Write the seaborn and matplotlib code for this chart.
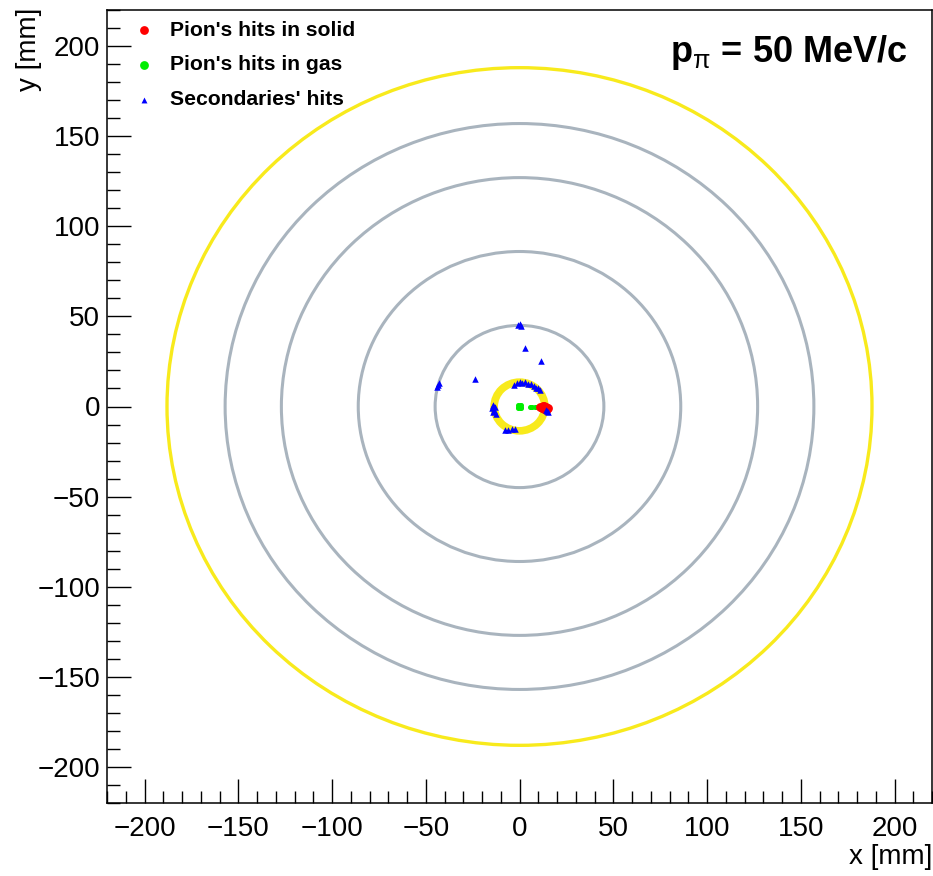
import matplotlib
matplotlib.use("Agg")
import matplotlib.pyplot as plt
from matplotlib.patches import Circle
from matplotlib.ticker import MultipleLocator
import seaborn as sns
import pandas as pd

# detector layers (radius in mm)
grey_radii = [45, 86, 127, 157]
yellow_outer_radius = 188
yellow_inner_radius = 13.5

# pion hits in solid
solid_x = [11.0, 12.0, 12.5, 13.0, 13.5, 14.0, 14.5, 15.0, 13.0, 14.0]
solid_y = [-0.5, -1.0, 0.5, -1.5, -0.5, 0.0, -1.5, -1.0, 0.5, -2.0]

# pion hits in gas (blob at the origin, then a dashed track towards the solid)
gas_x = [0.0, 1.0, -1.0, 0.0, 0.0, 0.7, -0.7, 0.7, -0.7,
         5.5, 6.0, 6.5, 8.5, 9.0, 9.5]
gas_y = [0.0, 0.0, 0.0, 1.0, -1.0, 0.7, 0.7, -0.7, -0.7,
         -0.2, -0.2, -0.2, -0.3, -0.3, -0.3]

# secondaries
sec_x = [-1.0, 0.0, 0.8, 3.0, 11.5, -23.5, -43.5, -43.0, -44.0,
         -3.0, -1.5, 0.0, 1.5, 3.0, 4.5, 6.0, 7.5, 9.0, 10.0, 11.0,
         -14.0, -14.5, -13.5, -14.0, -13.0, -12.5, -14.0,
         -8.0, -6.0, -4.0, -2.5,
         14.0, 15.0, 14.5]
sec_y = [45.0, 45.5, 44.8, 32.5, 25.0, 15.0, 12.0, 13.0, 11.0,
         12.0, 13.0, 13.5, 13.0, 13.5, 12.5, 12.5, 11.5, 10.5, 10.0, 9.0,
         1.0, -1.0, -2.0, -3.0, 0.0, -4.0, 0.5,
         -13.0, -13.0, -12.5, -12.5,
         -2.0, -3.0, -2.5]

sns.set_style("white")
plt.rcParams['font.family'] = ['Liberation Sans', 'DejaVu Sans']
plt.rcParams['text.color'] = 'black'
plt.rcParams['axes.labelcolor'] = 'black'
plt.rcParams['mathtext.fontset'] = 'custom'
plt.rcParams['mathtext.rm'] = 'Liberation Sans'
plt.rcParams['mathtext.bf'] = 'Liberation Sans:bold'

fig = plt.figure(figsize=(9.33, 8.76), dpi=100)
ax = fig.add_axes([107 / 933, 73 / 876, 825 / 933, 793 / 876])

for r in grey_radii:
    ax.add_patch(Circle((0, 0), r, fill=False, color='#a9b4be', lw=2.2))
ax.add_patch(Circle((0, 0), yellow_outer_radius, fill=False, color='#f8ea1c', lw=2.4))
ax.add_patch(Circle((0, 0), yellow_inner_radius, fill=False, color='#f8ea1c', lw=5.5))

solid = pd.DataFrame({'x': solid_x, 'y': solid_y})
gas = pd.DataFrame({'x': gas_x, 'y': gas_y})
sec = pd.DataFrame({'x': sec_x, 'y': sec_y})

sns.scatterplot(data=solid, x='x', y='y', ax=ax, color='#ff0000', marker='o',
                s=40, linewidth=0, label="Pion's hits in solid", zorder=4)
sns.scatterplot(data=gas, x='x', y='y', ax=ax, color='#00ee00', marker='o',
                s=13, linewidth=0, label="Pion's hits in gas", zorder=3)
sns.scatterplot(data=sec, x='x', y='y', ax=ax, color='#0000ff', marker='^',
                s=22, linewidth=0, label="Secondaries' hits", zorder=5)

ax.set_xlim(-220, 220)
ax.set_ylim(-220, 220)
ax.xaxis.set_major_locator(MultipleLocator(50))
ax.xaxis.set_minor_locator(MultipleLocator(10))
ax.yaxis.set_major_locator(MultipleLocator(50))
ax.yaxis.set_minor_locator(MultipleLocator(10))
ax.tick_params(which='both', direction='in', top=False, right=False,
               bottom=True, left=True, labelsize=20, colors='black')
ax.tick_params(which='major', length=17, width=1)
ax.tick_params(which='minor', length=9, width=1)
ax.tick_params(axis='x', which='major', pad=9)
ax.tick_params(axis='y', which='major', pad=5)
for sp in ax.spines.values():
    sp.set_color('black')
    sp.set_linewidth(1.1)

ax.set_xlabel('x [mm]', fontsize=20, loc='right')
ax.set_ylabel('y [mm]', fontsize=20, loc='top')
ax.xaxis.set_label_coords(1.0, -0.052)
ax.yaxis.set_label_coords(-0.079, 1.003)

ax.text(0.97, 0.946, r'$\mathbf{p}_{\mathrm{\pi}}$ = 50 MeV/c', transform=ax.transAxes,
        ha='right', va='center', fontsize=26, fontweight='bold', color='black')

leg = ax.legend(loc='upper left', bbox_to_anchor=(0.012, 1.0), frameon=False,
                prop={'weight': 'bold', 'size': 15.2},
                borderaxespad=0.2, borderpad=0.3, handletextpad=0.4, labelspacing=0.75,
                handlelength=1.6)
for h, sz in zip(leg.legend_handles, [40, 40, 18]):
    h.set_sizes([sz])

fig.savefig('out.png', dpi=100)
